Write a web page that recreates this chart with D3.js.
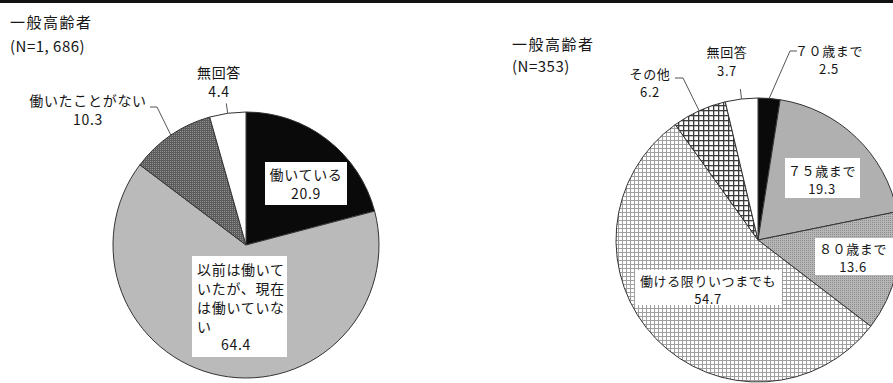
<!DOCTYPE html>
<html>
<head>
<meta charset="utf-8">
<script src="https://cdn.jsdelivr.net/npm/d3@7"></script>
<style>
  html, body { margin: 0; padding: 0; background: #fff; }
  svg { display: block; }
  text { font-family: "Noto Sans CJK JP", "Noto Sans", sans-serif; fill: #161616; }
</style>
</head>
<body>
<svg id="chart" width="893" height="383"></svg>
<script>
// 就労状況（一般高齢者）
const statusCategories = ["働いている", "以前は働いていたが、現在は働いていない", "働いたことがない", "無回答"];
const statusValues = [20.9, 64.4, 10.3, 4.4];
const statusTitle = ["一般高齢者", "(N=1, 686)"];

// 何歳まで働きたいか（一般高齢者）
const ageCategories = ["７０歳まで", "７５歳まで", "８０歳まで", "働ける限りいつまでも", "その他", "無回答"];
const ageValues = [2.5, 19.3, 13.6, 54.7, 6.2, 3.7];
const ageTitle = ["一般高齢者", "(N=353)"];

const svg = d3.select("#chart");

// top rule
svg.append("rect").attr("x", 0).attr("y", 0).attr("width", 893).attr("height", 3).attr("fill", "#111");

// ---- fill patterns ----
const defs = svg.append("defs");

function pattern(id, size, build) {
  const p = defs.append("pattern").attr("id", id)
    .attr("patternUnits", "userSpaceOnUse").attr("width", size).attr("height", size);
  build(p);
}
// dark stipple
pattern("stippleDark", 2, p => {
  p.append("rect").attr("width", 2).attr("height", 2).attr("fill", "#5c5c5c");
  p.append("rect").attr("width", 1).attr("height", 1).attr("fill", "#909090");
});
// fine stipple on mid gray
pattern("stippleMid", 2, p => {
  p.append("rect").attr("width", 2).attr("height", 2).attr("fill", "#b6b6b6");
  p.append("rect").attr("width", 1).attr("height", 1).attr("fill", "#8c8c8c");
});
// light grid
pattern("gridLight", 4, p => {
  p.append("rect").attr("width", 4).attr("height", 4).attr("fill", "#fff");
  p.append("rect").attr("width", 4).attr("height", 1).attr("fill", "#a0a0a0");
  p.append("rect").attr("width", 1).attr("height", 4).attr("fill", "#a0a0a0");
});
// bold grid
pattern("gridDark", 5, p => {
  p.append("rect").attr("width", 5).attr("height", 5).attr("fill", "#fff");
  p.append("rect").attr("width", 5).attr("height", 1.3).attr("fill", "#3c3c3c");
  p.append("rect").attr("width", 1.3).attr("height", 5).attr("fill", "#3c3c3c");
});

const statusFills = ["#0a0a0a", "#bababa", "url(#stippleDark)", "#ffffff"];
const ageFills = ["#0a0a0a", "#b0b0b0", "url(#stippleMid)", "url(#gridLight)", "url(#gridDark)", "#ffffff"];

// label layout for each slice
// kind "box": white box inside the slice; kind "out": text outside with a leader
const statusLayout = {
  cx: 246, cy: 245, r: 133, font: 14, spacing: 0.7,
  title: { x: 10, y: 21, gap: 24, size: 15 },
  labels: [
    { kind: "box", box: [265, 162, 82, 43], y: 174, gap: 19, cx: 306 },
    { kind: "box", box: [192, 256, 95, 101], wrap: 6, left: 197, y: 269, gap: 19, valueGap: 18, cx: 236 },
    { kind: "out", x: 88, y: 100, gap: 19, elbow: [157, 107], end: [150, 107] },
    { kind: "out", x: 219, y: 72, gap: 19, radial: 10 }
  ]
};
const ageLayout = {
  cx: 758, cy: 240, r: 142, font: 13, spacing: 0.6,
  title: { x: 512, y: 43, gap: 22, size: 15 },
  labels: [
    { kind: "out", x: 829, y: 50, gap: 18, elbow: [790, 51], end: [797, 51] },
    { kind: "box", box: [785, 158, 75, 40], y: 169.5, gap: 18, cx: 822 },
    { kind: "box", box: [815, 238, 90, 37], y: 247.5, gap: 18, cx: 853 },
    { kind: "box", box: [635, 270, 147, 35], y: 279.5, gap: 18, cx: 708 },
    { kind: "out", x: 650, y: 73, gap: 18, elbow: [683, 78], end: [675, 78] },
    { kind: "out", x: 727, y: 51, gap: 19, radial: 10 }
  ]
};

// one <text> per label, one <tspan> per line
function multiline(g, rows, size, spacing) {
  const t = g.append("text").attr("font-size", size)
    .attr("letter-spacing", spacing).attr("dominant-baseline", "central");
  rows.forEach(r => {
    t.append("tspan").attr("x", r.x).attr("y", r.y)
      .attr("text-anchor", r.anchor || "middle")
      .attr("dominant-baseline", "central")
      .text(r.text);
  });
  return t;
}

function drawPie(categories, values, fills, title, L) {
  const g = svg.append("g");
  const pie = d3.pie().sort(null).value(d => d.value);
  const arcs = pie(categories.map((c, i) => ({ category: c, value: values[i], fill: fills[i] })));
  const arc = d3.arc().innerRadius(0).outerRadius(L.r);
  const rim = d3.arc().innerRadius(L.r).outerRadius(L.r);

  g.selectAll("path.slice").data(arcs).join("path")
    .attr("class", "slice")
    .attr("transform", `translate(${L.cx},${L.cy})`)
    .attr("d", arc)
    .attr("fill", d => d.data.fill)
    .attr("stroke", "#333")
    .attr("stroke-width", 1)
    .attr("stroke-linejoin", "round");

  // title
  title.forEach((t, i) => {
    g.append("text").attr("x", L.title.x).attr("y", L.title.y + i * L.title.gap)
      .attr("dominant-baseline", "central")
      .attr("font-size", L.title.size)
      .attr("letter-spacing", i === 0 ? 1.5 : 0.5)
      .text(t);
  });

  arcs.forEach((d, i) => {
    const lab = L.labels[i];
    const valueText = d3.format(".1f")(d.data.value);
    if (lab.kind === "box") {
      const [bx, by, bw, bh] = lab.box;
      g.append("rect").attr("x", bx).attr("y", by).attr("width", bw).attr("height", bh).attr("fill", "#fff");
      if (lab.wrap) {
        const chars = Array.from(d.data.category);
        const rows = d3.range(0, chars.length, lab.wrap).map(k => chars.slice(k, k + lab.wrap).join(""));
        const lines = rows.map((row, k) => ({ text: row, x: lab.left, y: lab.y + k * lab.gap, anchor: "start" }));
        lines.push({ text: valueText, x: lab.cx, y: lab.y + (rows.length - 1) * lab.gap + lab.valueGap });
        multiline(g, lines, L.font, L.spacing);
      } else {
        multiline(g, [d.data.category, valueText].map((t, k) => ({ text: t, x: lab.cx, y: lab.y + k * lab.gap })), L.font, L.spacing);
      }
    } else {
      multiline(g, [d.data.category, valueText].map((t, k) => ({ text: t, x: lab.x, y: lab.y + k * lab.gap })), L.font, L.spacing);
      const [px, py] = rim.centroid(d);
      const start = [L.cx + px, L.cy + py];
      let pts;
      if (lab.radial) {
        const outer = d3.arc().innerRadius(L.r + lab.radial).outerRadius(L.r + lab.radial).centroid(d);
        pts = [start, [L.cx + outer[0], L.cy + outer[1]]];
      } else {
        pts = [start, lab.elbow, lab.end];
      }
      g.append("path").attr("d", d3.line()(pts))
        .attr("fill", "none").attr("stroke", "#555").attr("stroke-width", 1);
    }
  });
}

drawPie(statusCategories, statusValues, statusFills, statusTitle, statusLayout);
drawPie(ageCategories, ageValues, ageFills, ageTitle, ageLayout);
</script>
</body>
</html>
